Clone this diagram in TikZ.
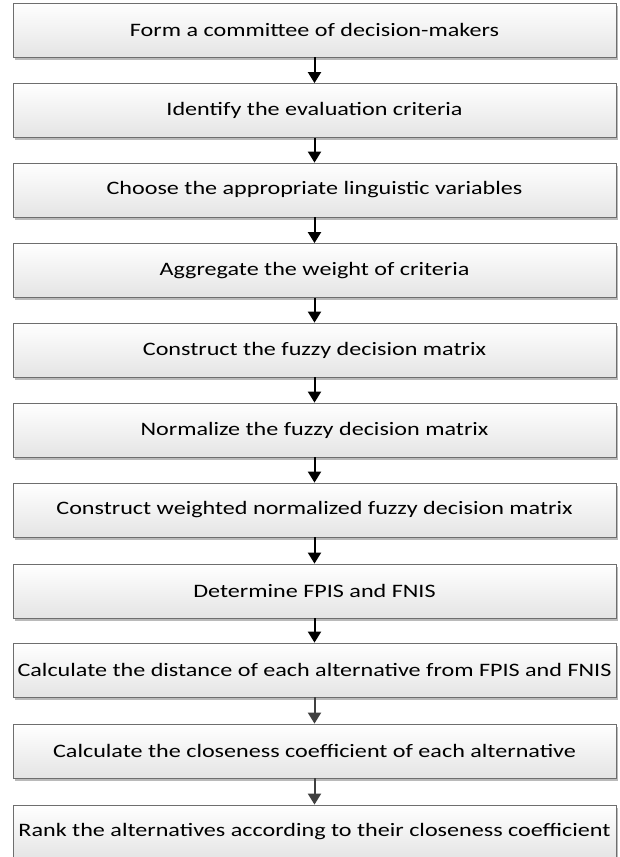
\documentclass[tikz,border=0pt]{standalone}
\usepackage{fontspec}
\setmainfont[FakeStretch=1.27]{Carlito}
\usetikzlibrary{arrows,arrows.meta,shadows}
\definecolor{box_line}{RGB}{110, 110, 110}
\definecolor{box_low}{RGB}{228, 228, 228}
\definecolor{arr_dark}{RGB}{64, 64, 64}
\tikzstyle{stage}=[rectangle,draw=box_line,line width=0.8pt,top color=white,
  bottom color=box_low,minimum width=603pt,minimum height=54pt,inner sep=0pt,
  font=\fontsize{19pt}{22pt}\selectfont,
  drop shadow={shadow xshift=1.5pt,shadow yshift=-2.5pt,fill=black!45,opacity=0.6}]
\tikzstyle{flow}=[-{Triangle[length=11pt,width=13pt]},line width=2pt,black]
\tikzstyle{flowgrey}=[flow,arr_dark]
\tikzstyle{none}=[]

\begin{document}
\begin{tikzpicture}[x=1pt,y=1pt]
    \useasboundingbox (0, 0) rectangle (620, -857);
    \clip (0, 0) rectangle (620, -857);
            \node [style=stage] (0) at (314.5, -30) {Form a committee of decision-makers};
            \node [style=stage] (1) at (314.5, -110.5) {Identify the evaluation criteria};
            \node [style=stage] (2) at (314.5, -190) {Choose the appropriate linguistic variables};
            \node [style=stage] (3) at (314.5, -270.5) {Aggregate the weight of criteria};
            \node [style=stage] (4) at (314.5, -350) {Construct the fuzzy decision matrix};
            \node [style=stage] (5) at (314.5, -430) {Normalize the fuzzy decision matrix};
            \node [style=stage] (6) at (314.5, -510) {Construct weighted normalized fuzzy decision matrix};
            \node [style=stage] (7) at (314.5, -591) {Determine FPIS and FNIS};
            \node [style=stage] (8) at (314.5, -670) {Calculate the distance of each alternative from FPIS and FNIS};
            \node [style=stage] (9) at (314.5, -751) {Calculate the closeness coefficient of each alternative};
            \node [style=stage] (10) at (314.5, -832) {Rank the alternatives according to their closeness coefficient};
            \draw [style=flow] (0) to (1);
            \draw [style=flow] (1) to (2);
            \draw [style=flow] (2) to (3);
            \draw [style=flow] (3) to (4);
            \draw [style=flow] (4) to (5);
            \draw [style=flow] (5) to (6);
            \draw [style=flow] (6) to (7);
            \draw [style=flow] (7) to (8);
            \draw [style=flowgrey] (8) to (9);
            \draw [style=flowgrey] (9) to (10);
    \end{tikzpicture}
\end{document}
